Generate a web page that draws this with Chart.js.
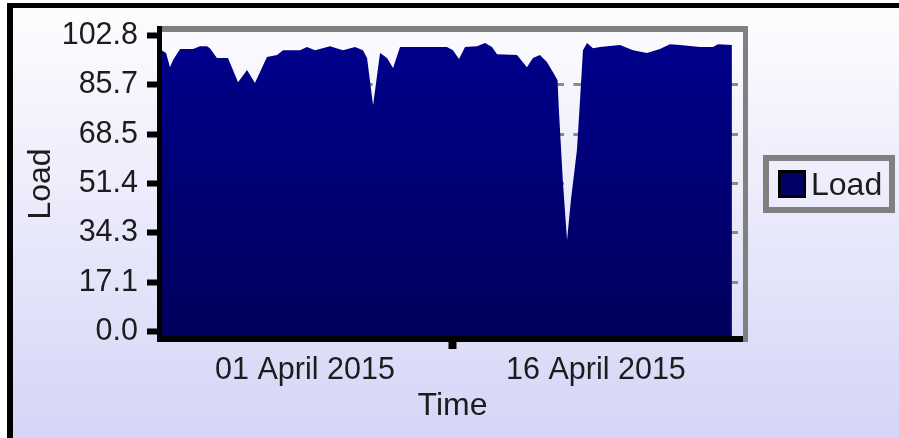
<!DOCTYPE html>
<html>
<head>
<meta charset="utf-8">
<script src="https://cdn.jsdelivr.net/npm/chart.js@4/dist/chart.umd.min.js"></script>
<style>
  body { margin: 0; background: #fff; }
  #wrap { position: relative; width: 899px; height: 438px; overflow: hidden; background: #fff; }
  #frame {
    position: absolute; left: 7px; top: 3px; width: 910px; height: 450px;
    border-left: 6px solid #000; border-top: 5px solid #000;
    background: linear-gradient(to bottom, #fdfdff 0px, #d5d5f7 430px);
  }
  canvas { position: absolute; left: 0; top: 0; }
  #legend {
    position: absolute; left: 763px; top: 155px; width: 132px; height: 58px;
    box-sizing: border-box; border: 6px solid #808080;
    display: flex; align-items: center; padding-left: 9px;
    font: 32px "Liberation Sans", Arial, sans-serif; color: #1c1c1c;
  }
  .swatch { width: 28px; height: 28px; box-sizing: border-box; border: 3px solid #000; margin-right: 5px; }
</style>
</head>
<body>
<div id="wrap">
  <div id="frame"></div>
  <canvas id="loadChart" width="899" height="438"></canvas>
  <div id="legend"></div>
</div>
<script>
// days counted from 01 April 2015 00:00
const dayOffsets = [-7.5, -7.16, -6.96, -6.80, -6.44, -5.77, -5.41, -5.05, -4.90, -4.54, -3.97, -3.45, -2.99, -2.58,
  -1.96, -1.44, -1.13, -0.26, 0.10, 0.52, 1.29, 1.96, 2.58, 2.99, 3.20, 3.51, 3.87, 4.23, 4.54, 4.90, 6.60, 7.32,
  7.63, 7.94, 8.25, 8.87, 9.28, 9.64, 9.90, 10.93, 11.44, 11.75, 12.11, 12.47, 12.78, 13.02, 13.09, 13.30, 13.51,
  13.71, 14.02, 14.18, 14.33, 14.54, 14.85, 15.21, 16.24, 16.91, 17.63, 18.30, 18.81, 19.33, 20.36, 21.03, 21.29, 22.01];
const loadValues = [98.1, 96.7, 91.8, 94.3, 98.1, 98.1, 99.1, 99.1, 98.4, 95.0, 95.0, 86.6, 90.8, 86.3,
  95.3, 96.0, 97.7, 97.7, 98.8, 97.7, 99.1, 97.7, 98.8, 97.7, 95.0, 78.6, 96.7, 95.0, 91.5, 98.8, 98.8, 98.8,
  97.7, 94.6, 98.8, 99.1, 100.2, 98.8, 96.3, 96.0, 91.8, 95.0, 96.0, 93.6, 90.1, 87.3, 76.9, 51.6, 31.8,
  45.7, 63.0, 80.4, 97.7, 100.2, 98.4, 98.8, 99.5, 97.7, 96.7, 98.1, 99.8, 99.5, 98.8, 98.8, 99.8, 99.5];
const yTickValues = [0, 17.13, 34.27, 51.4, 68.53, 85.67, 102.8];
const xTickValues = [0, 7.6, 15];
const xTickLabels = ['01 April 2015', '', '16 April 2015'];

Chart.defaults.font.family = '"Liberation Sans", Arial, sans-serif';
Chart.defaults.color = '#1c1c1c';

const points = dayOffsets.map((d, i) => ({ x: d, y: loadValues[i] }));

// gray top/right and black left/bottom lines round the plot
const plotFrame = {
  id: 'plotFrame',
  afterDraw(chart) {
    const { ctx, chartArea: a } = chart;
    ctx.save();
    ctx.fillStyle = '#808080';
    ctx.fillRect(a.left - 2.5, a.top - 3, a.right - a.left + 5, 6);
    ctx.fillRect(a.right - 2.5, a.top - 3, 5, a.bottom - a.top + 6);
    ctx.fillStyle = '#000';
    ctx.fillRect(a.left - 2.5, a.top - 3, 5, a.bottom - a.top + 6);
    ctx.fillRect(a.left - 2.5, a.bottom - 3, a.right - a.left, 6);
    ctx.restore();
  }
};

const chart = new Chart(document.getElementById('loadChart'), {
  type: 'line',
  data: {
    datasets: [{
      label: 'Load',
      data: points,
      fill: 'start',
      borderWidth: 0,
      pointRadius: 0,
      tension: 0,
      backgroundColor: function(c) {
        const a = c.chart.chartArea;
        if (!a) return '#000080';
        const g = c.chart.ctx.createLinearGradient(0, a.top, 0, a.bottom);
        g.addColorStop(0, '#00008e');
        g.addColorStop(1, '#00005c');
        return g;
      },
      swatch: '#000066'
    }]
  },
  options: {
    responsive: false,
    animation: false,
    devicePixelRatio: 1,
    layout: { padding: { top: 29, right: 153.5, left: 0, bottom: 0 } },
    plugins: { legend: { display: false }, tooltip: { enabled: false } },
    scales: {
      x: {
        type: 'linear',
        min: -7.5,
        max: 22.71,
        afterBuildTicks: function(scale) {
          scale.ticks = xTickValues.map(v => ({ value: v }));
        },
        afterFit: function(scale) { scale.height = 99; },
        ticks: {
          autoSkip: false,
          maxRotation: 0,
          padding: 3,
          font: { size: 30.5 },
          callback: function(v, i) { return xTickLabels[i]; }
        },
        grid: {
          drawOnChartArea: false,
          tickLength: 10,
          tickWidth: 8,
          tickColor: function(c) { return c.index === 1 ? '#000' : 'transparent'; }
        },
        border: { display: false },
        title: { display: true, text: 'Time', font: { size: 32 }, padding: { top: 0, bottom: 12.3 } }
      },
      y: {
        min: -2.6,
        max: 105.06,
        afterBuildTicks: function(scale) {
          scale.ticks = yTickValues.map(v => ({ value: v }));
        },
        afterFit: function(scale) { scale.width = 159.5; },
        ticks: {
          padding: 9,
          font: { size: 30.5 },
          callback: function(v) { return v.toFixed(1); }
        },
        grid: {
          lineWidth: 3,
          color: function(c) {
            const v = c.tick && c.tick.value;
            return v === 102.8 || v === 0 ? 'transparent' : '#8a8a8a';
          },
          tickLength: 12.5,
          tickWidth: 6,
          tickColor: '#000'
        },
        border: { display: false, dash: [8, 9.4], dashOffset: 4.2 },
        title: { display: true, text: 'Load', font: { size: 32 }, padding: { top: 22.3, bottom: 0 } }
      }
    }
  },
  plugins: [plotFrame]
});

const legend = document.getElementById('legend');
chart.data.datasets.forEach(function(ds) {
  const box = document.createElement('span');
  box.className = 'swatch';
  box.style.background = ds.swatch;
  const text = document.createElement('span');
  text.textContent = ds.label;
  legend.appendChild(box);
  legend.appendChild(text);
});
</script>
</body>
</html>
